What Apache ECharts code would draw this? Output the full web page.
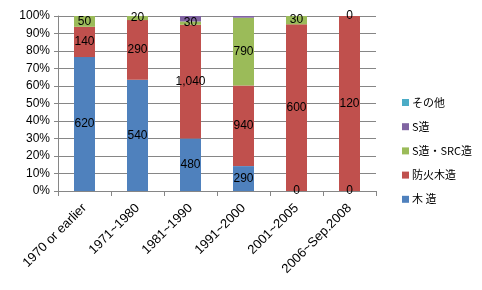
<!DOCTYPE html>
<html><head><meta charset="utf-8">
<script src="https://cdn.jsdelivr.net/npm/echarts@6/dist/echarts.min.js"></script>
<style>html,body{margin:0;padding:0;background:#fff}#c{width:482px;height:290px}</style>
</head><body><div id="c"></div>
<script>
var categories = ['1970 or earlier','1971~1980','1981~1990','1991~2000','2001~2005','2006~Sep.2008'];
var seriesNames = ['木 造','防火木造','S造・SRC造','S造','その他'];
var wood     = [620, 540, 480, 290, 0, 0];
var fireWood = [140, 290, 1040, 940, 600, 120];
var sSrc     = [50, 20, 30, 790, 30, 0];
var steel    = [0, 0, 50, 20, 0, 0];
var other    = [0, 0, 0, 0, 0, 0];
var yTicks = ['0%','10%','20%','30%','40%','50%','60%','70%','80%','90%','100%'];

var raw = [wood, fireWood, sSrc, steel, other];
var colors = ['#4F81BD','#C0504D','#9BBB59','#8064A2','#4BACC6'];
var showLabel = [true, true, true, false, false];
var totals = categories.map(function(_, i){ var s=0; raw.forEach(function(a){ s+=a[i]; }); return s; });

var series = raw.map(function(arr, k){
  return {
    name: seriesNames[k], type: 'bar', stack: 'all', barWidth: 21,
    itemStyle: { color: colors[k] },
    label: { show: showLabel[k], position: 'inside', color: '#000', fontSize: 12, fontFamily: 'Liberation Sans',
      formatter: function(p){ return raw[k][p.dataIndex].toLocaleString('en-US'); } },
    data: arr.map(function(v, i){ return v / totals[i] * 100; })
  };
});

var chart = echarts.init(document.getElementById('c'));
chart.setOption({
  animation: false,
  textStyle: { fontFamily: 'Liberation Sans' },
  grid: { left: 58, right: 106, top: 16, bottom: 99 },
  legend: {
    orient: 'vertical', left: 397, top: 92, itemGap: 13.2, itemWidth: 7, itemHeight: 7, icon: 'rect',
    textStyle: { fontSize: 11, color: '#000', fontFamily: 'Noto Sans CJK JP', padding: [0, 0, 0, -2] },
    data: ['その他','S造','S造・SRC造','防火木造','木 造']
  },
  xAxis: {
    type: 'category', data: categories,
    axisLine: { lineStyle: { color: '#868686' } },
    axisTick: { show: true, length: 5, lineStyle: { color: '#868686' } },
    axisLabel: { rotate: 45, color: '#000', fontSize: 13, margin: 15 }
  },
  yAxis: {
    type: 'value', min: 0, max: 100, interval: 10,
    axisLine: { show: true, lineStyle: { color: '#868686' } },
    axisTick: { show: true, length: 4, lineStyle: { color: '#868686' } },
    splitLine: { lineStyle: { color: '#868686' } },
    axisLabel: { color: '#000', fontSize: 12, margin: 8,
      formatter: function(v){ return yTicks[Math.round(v/10)]; } }
  },
  series: series
});
</script></body></html>
